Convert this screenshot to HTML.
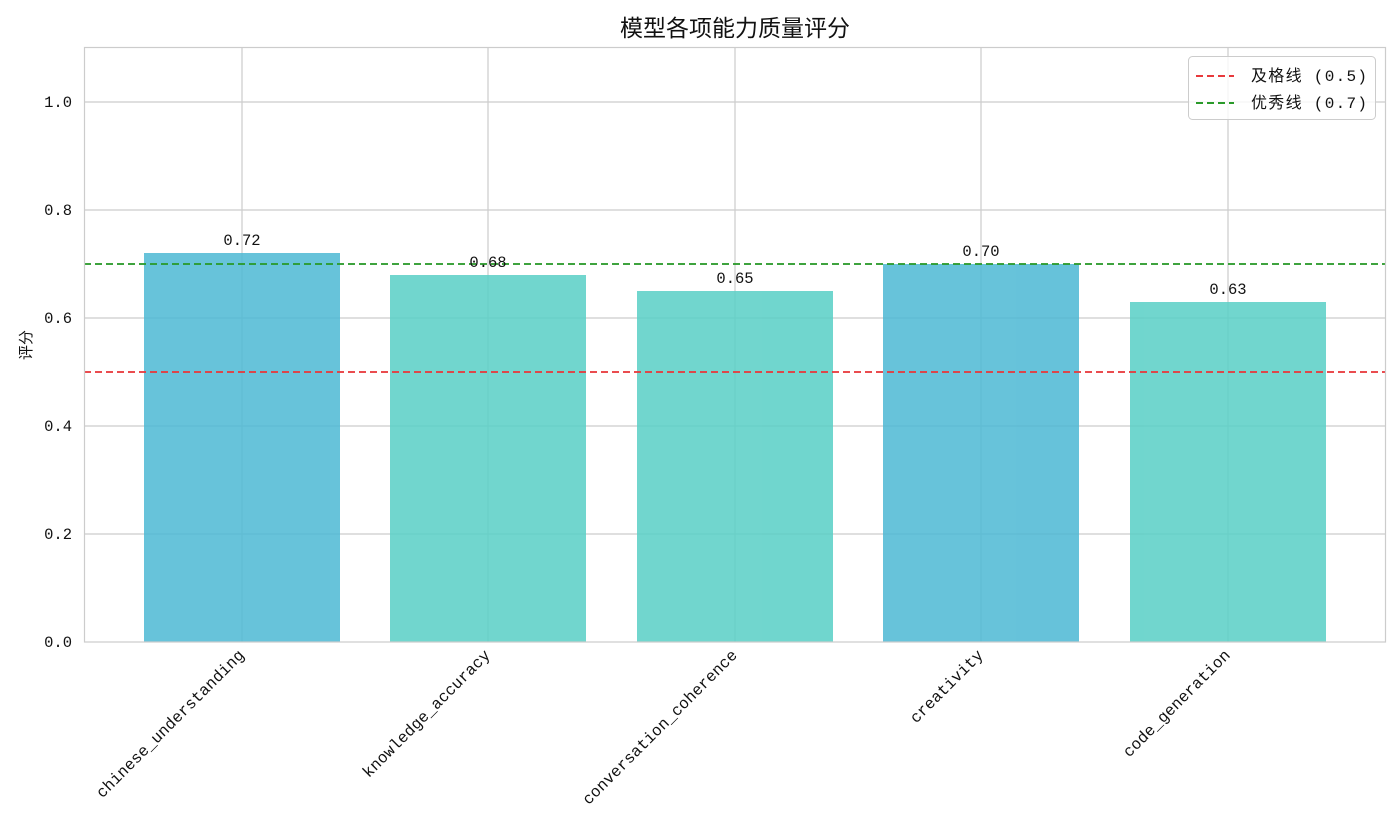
<!DOCTYPE html>
<html><head><meta charset="utf-8"><style>body{margin:0;background:#fff}</style></head><body>
<svg width="1400" height="835" xmlns="http://www.w3.org/2000/svg" font-family="'Liberation Mono','WenQuanYi Zen Hei',monospace">
<rect width="1400" height="835" fill="#fff"/>
<g stroke="#cccccc" stroke-width="1.2">
<line x1="84" x2="1386" y1="534" y2="534"/><line x1="84" x2="1386" y1="426" y2="426"/>
<line x1="84" x2="1386" y1="318" y2="318"/><line x1="84" x2="1386" y1="210" y2="210"/>
<line x1="84" x2="1386" y1="102" y2="102"/>
<line x1="242" x2="242" y1="47" y2="642"/><line x1="488" x2="488" y1="47" y2="642"/>
<line x1="735" x2="735" y1="47" y2="642"/><line x1="981" x2="981" y1="47" y2="642"/>
<line x1="1228" x2="1228" y1="47" y2="642"/>
</g>
<g opacity="0.85">
<rect x="144" y="253" width="196" height="389" fill="#4cb8d4"/>
<rect x="390" y="275" width="196" height="367" fill="#58cfc6"/>
<rect x="637" y="291" width="196" height="351" fill="#58cfc6"/>
<rect x="883" y="264" width="196" height="378" fill="#4cb8d4"/>
<rect x="1130" y="302" width="196" height="340" fill="#58cfc6"/>
</g>
<line x1="84" x2="1386" y1="372" y2="372" stroke="#e8393c" stroke-width="2" stroke-dasharray="7,4" opacity="0.9"/>
<line x1="84" x2="1386" y1="264" y2="264" stroke="#2a9a2a" stroke-width="2" stroke-dasharray="7,4" opacity="0.9"/>
<rect x="84.5" y="47.5" width="1301" height="594.5" fill="none" stroke="#cccccc" stroke-width="1.2"/>
<g font-size="15.5" fill="#111" text-anchor="middle">
<text x="242" y="245">0.72</text><text x="488" y="267">0.68</text><text x="735" y="283">0.65</text>
<text x="981" y="256">0.70</text><text x="1228" y="294">0.63</text>
</g>
<g font-size="15.5" fill="#111" text-anchor="end">
<text x="72" y="647">0.0</text><text x="72" y="539">0.2</text><text x="72" y="431">0.4</text>
<text x="72" y="323">0.6</text><text x="72" y="215">0.8</text><text x="72" y="107">1.0</text>
</g>
<g font-size="16" fill="#111" text-anchor="end">
<text transform="translate(245,656) rotate(-45)">chinese_understanding</text>
<text transform="translate(491,656) rotate(-45)">knowledge_accuracy</text>
<text transform="translate(738,656) rotate(-45)">conversation_coherence</text>
<text transform="translate(984,656) rotate(-45)">creativity</text>
<text transform="translate(1231,656) rotate(-45)">code_generation</text>
</g>
<text transform="translate(31,345) rotate(-90)" font-size="15" text-anchor="middle" fill="#111">评分</text>
<text x="735" y="36" font-size="23" text-anchor="middle" fill="#111">模型各项能力质量评分</text>
<rect x="1188.5" y="56.5" width="187" height="63" rx="4" fill="#fff" fill-opacity="0.8" stroke="#ccc"/>
<line x1="1196" x2="1234" y1="76" y2="76" stroke="#e8393c" stroke-width="2" stroke-dasharray="7,4"/>
<line x1="1196" x2="1234" y1="103" y2="103" stroke="#2a9a2a" stroke-width="2" stroke-dasharray="7,4"/>
<text x="1251" y="81" font-size="16" fill="#111" textLength="116">及格线 (0.5)</text>
<text x="1251" y="108" font-size="16" fill="#111" textLength="116">优秀线 (0.7)</text>
</svg>
</body></html>
